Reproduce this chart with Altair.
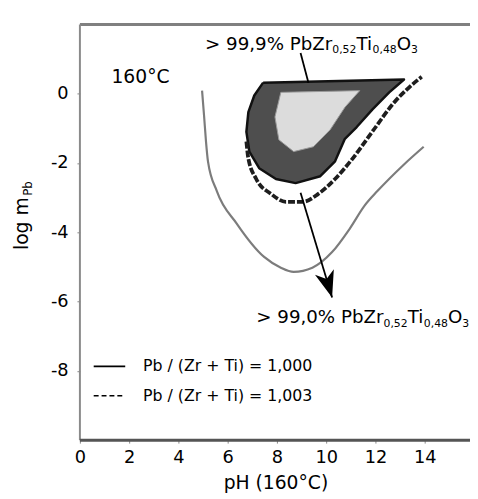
import altair as alt
import pandas as pd

FONT = "DejaVu Sans"

# ---- data (pH, log m_Pb) ----
# 99.0 % contour, Pb/(Zr+Ti) = 1.000 (solid, thin grey)
outer_ph = [4.96, 5.04, 5.12, 5.20, 5.56, 6.36, 7.48, 8.16, 8.68, 9.44, 10.24, 10.96, 11.56, 12.08, 13.16, 13.96]
outer_log = [0.09, -0.62, -1.38, -1.95, -2.81, -3.74, -4.71, -5.02, -5.14, -5.02, -4.57, -3.89, -3.23, -2.81, -2.04, -1.53]

# Pb/(Zr+Ti) = 1.003 contour (dashed)
dash_ph = [6.76, 6.84, 7.16, 7.76, 8.36, 9.04, 9.68, 10.36, 11.04, 11.96, 12.76, 13.36, 13.88]
dash_log = [-1.38, -1.87, -2.46, -2.89, -3.12, -3.12, -2.89, -2.46, -1.90, -1.01, -0.25, 0.18, 0.49]

# > 99.9 % region (shaded)
core_ph = [7.44, 13.16, 12.56, 11.88, 11.24, 10.76, 10.36, 9.76, 8.76, 7.96, 7.28, 6.88, 6.76, 6.84, 7.08, 7.44]
core_log = [0.32, 0.41, 0.04, -0.45, -0.96, -1.30, -1.95, -2.38, -2.58, -2.46, -2.15, -1.67, -1.10, -0.53, -0.05, 0.32]

# lighter centre of the shaded region
light_ph = [8.16, 11.36, 10.76, 10.16, 9.48, 8.68, 8.08, 7.92, 8.16]
light_log = [0.04, 0.09, -0.39, -1.04, -1.53, -1.67, -1.33, -0.67, 0.04]

# pointer lines
arrow1_ph = [8.96, 9.28]
arrow1_log = [1.175, 0.32]
arrow2_ph = [8.96, 10.24]
arrow2_log = [-2.86, -5.88]

x_ticks = [0, 2, 4, 6, 8, 10, 12, 14]
y_ticks = [-8, -6, -4, -2, 0]

legend_labels = ["Pb / (Zr + Ti) = 1,000", "Pb / (Zr + Ti) = 1,003"]
legend_log = [-7.87, -8.72]

W_PLOT, H_PLOT = 396, 422
xs = alt.Scale(domain=[0, 15.84], nice=False, zero=False)
ys = alt.Scale(domain=[-10, 2], nice=False, zero=False)

X_AXIS = alt.Axis(values=x_ticks, title=None, domain=False, grid=False,
                  tickSize=3, tickColor="#888888", labelFont=FONT,
                  labelFontSize=18, labelColor="#000000", labelPadding=6,
                  labelFlush=False)
Y_AXIS = alt.Axis(values=y_ticks, title=None, domain=False, grid=False,
                  tickSize=3, tickColor="#888888", labelFont=FONT,
                  labelFontSize=18, labelColor="#000000", labelPadding=9,
                  labelExpr="datum.value + ''")


def X(f="x"):
    return alt.X(f, type="quantitative", scale=xs, axis=X_AXIS)


def Y(f="y"):
    return alt.Y(f, type="quantitative", scale=ys, axis=Y_AXIS)


def poly(ph, lg):
    return pd.DataFrame({"x": ph, "y": lg, "i": list(range(len(ph)))})


layers = []

# outer solid contour
layers.append(
    alt.Chart(poly(outer_ph, outer_log)).mark_line(
        color="#7c7c7c", strokeWidth=2.2, interpolate="monotone"
    ).encode(x=X(), y=Y(), order="i:Q")
)

# shaded region
layers.append(
    alt.Chart(poly(core_ph, core_log)).mark_line(
        fill="#4e4e4e", stroke="#111111", strokeWidth=2.5, strokeJoin="round"
    ).encode(x=X(), y=Y(), order="i:Q")
)
layers.append(
    alt.Chart(poly(light_ph, light_log)).mark_line(
        fill="#dcdcdc", stroke="#9a9a9a", strokeWidth=1, strokeJoin="round"
    ).encode(x=X(), y=Y(), order="i:Q")
)

# dashed contour
layers.append(
    alt.Chart(poly(dash_ph, dash_log)).mark_line(
        color="#1e1e1e", strokeWidth=3.8, strokeDash=[7, 2], interpolate="monotone"
    ).encode(x=X(), y=Y(), order="i:Q")
)

# pointer lines
for ph, lg in [(arrow1_ph, arrow1_log), (arrow2_ph, arrow2_log)]:
    layers.append(
        alt.Chart(poly(ph, lg)).mark_line(color="#000000", strokeWidth=1.8)
        .encode(x=X(), y=Y(), order="i:Q")
    )
# arrow head at the tip of pointer 2
layers.append(
    alt.Chart(pd.DataFrame({"x": [arrow2_ph[1]], "y": [arrow2_log[1]]})).mark_point(
        shape="M0,0 L-0.74,-2 L0,-1.45 L0.74,-2 Z", size=729, filled=True,
        color="#000000", opacity=1, strokeWidth=0, angle=343.2
    ).encode(x=X(), y=Y())
)

# legend samples
leg = pd.DataFrame({"x": [0.56, 1.84], "y": [legend_log[0]] * 2, "i": [0, 1]})
layers.append(alt.Chart(leg).mark_line(color="#000000", strokeWidth=2).encode(x=X(), y=Y(), order="i:Q"))
leg2 = pd.DataFrame({"x": [0.56, 1.84], "y": [legend_log[1]] * 2, "i": [0, 1]})
layers.append(alt.Chart(leg2).mark_line(color="#000000", strokeWidth=1.6, strokeDash=[5, 3]).encode(x=X(), y=Y(), order="i:Q"))

# text helpers
WID = {" ": 0.318, ",": 0.318, "%": 0.950, ">": 0.838, "P": 0.603, "b": 0.635, "Z": 0.685,
       "r": 0.411, "T": 0.611, "i": 0.278, "O": 0.787, "°": 0.5, "C": 0.698}
for d in "0123456789":
    WID[d] = 0.636


def twidth(s, size):
    return sum(WID.get(c, 0.6) for c in s) * size


def rich(xv, yv, pieces):
    out = []
    dx = 0.0
    df = pd.DataFrame({"x": [xv], "y": [yv]})
    for txt, size, dy in pieces:
        out.append(
            alt.Chart(df).mark_text(text=txt, align="left", baseline="alphabetic",
                                    font=FONT, fontSize=size, dx=dx, dy=dy, color="#000000")
            .encode(x=X(), y=Y())
        )
        dx += twidth(txt, size)
    return out


def formula(prefix):
    M, S, D = 18.5, 11, 3.5
    return [(prefix + " PbZr", M, 0), ("0,52", S, D), ("Ti", M, 0), ("0,48", S, D), ("O", M, 0), ("3", S, D)]


layers += rich(5.08, 1.27, formula("> 99,9%"))
layers += rich(7.16, -6.62, formula("> 99,0%"))
layers += rich(1.28, 0.32, [("160°C", 19, 0)])
layers += rich(2.56, -8.01, [(legend_labels[0], 16, 0)])
layers += rich(2.56, -8.86, [(legend_labels[1], 16, 0)])

one = pd.DataFrame({"a": [0]})

# axis titles as text (subscript needs separate piece)
layers.append(alt.Chart(one).mark_text(text="pH (160°C)", align="center", baseline="alphabetic",
                                       font=FONT, fontSize=19, color="#000000")
              .encode(x=alt.value(199), y=alt.value(472)))
layers.append(alt.Chart(one).mark_text(text="log m", align="left", baseline="alphabetic",
                                       font=FONT, fontSize=19, angle=270, color="#000000")
              .encode(x=alt.value(-53), y=alt.value(229)))
layers.append(alt.Chart(one).mark_text(text="Pb", align="left", baseline="alphabetic",
                                       font=FONT, fontSize=12, angle=270, color="#000000")
              .encode(x=alt.value(-49), y=alt.value(229 - 55)))

# frame (top, left, bottom)
layers.append(alt.Chart(one).mark_rule(color="#808080", strokeWidth=3)
              .encode(x=alt.value(0), x2=alt.value(W_PLOT), y=alt.value(0)))
layers.append(alt.Chart(one).mark_rule(color="#8a8a8a", strokeWidth=2)
              .encode(x=alt.value(0), y=alt.value(0), y2=alt.value(H_PLOT)))
layers.append(alt.Chart(one).mark_rule(color="#555555", strokeWidth=3)
              .encode(x=alt.value(0), x2=alt.value(W_PLOT), y=alt.value(H_PLOT)))

chart = alt.layer(*layers).properties(
    width=W_PLOT, height=H_PLOT,
    autosize=alt.AutoSizeParams(type="none"),
    padding={"left": 73, "top": 13, "right": 0, "bottom": 56},
).configure_view(strokeWidth=0)

chart.save("out.html", embed_options={"renderer": "svg", "actions": False})
